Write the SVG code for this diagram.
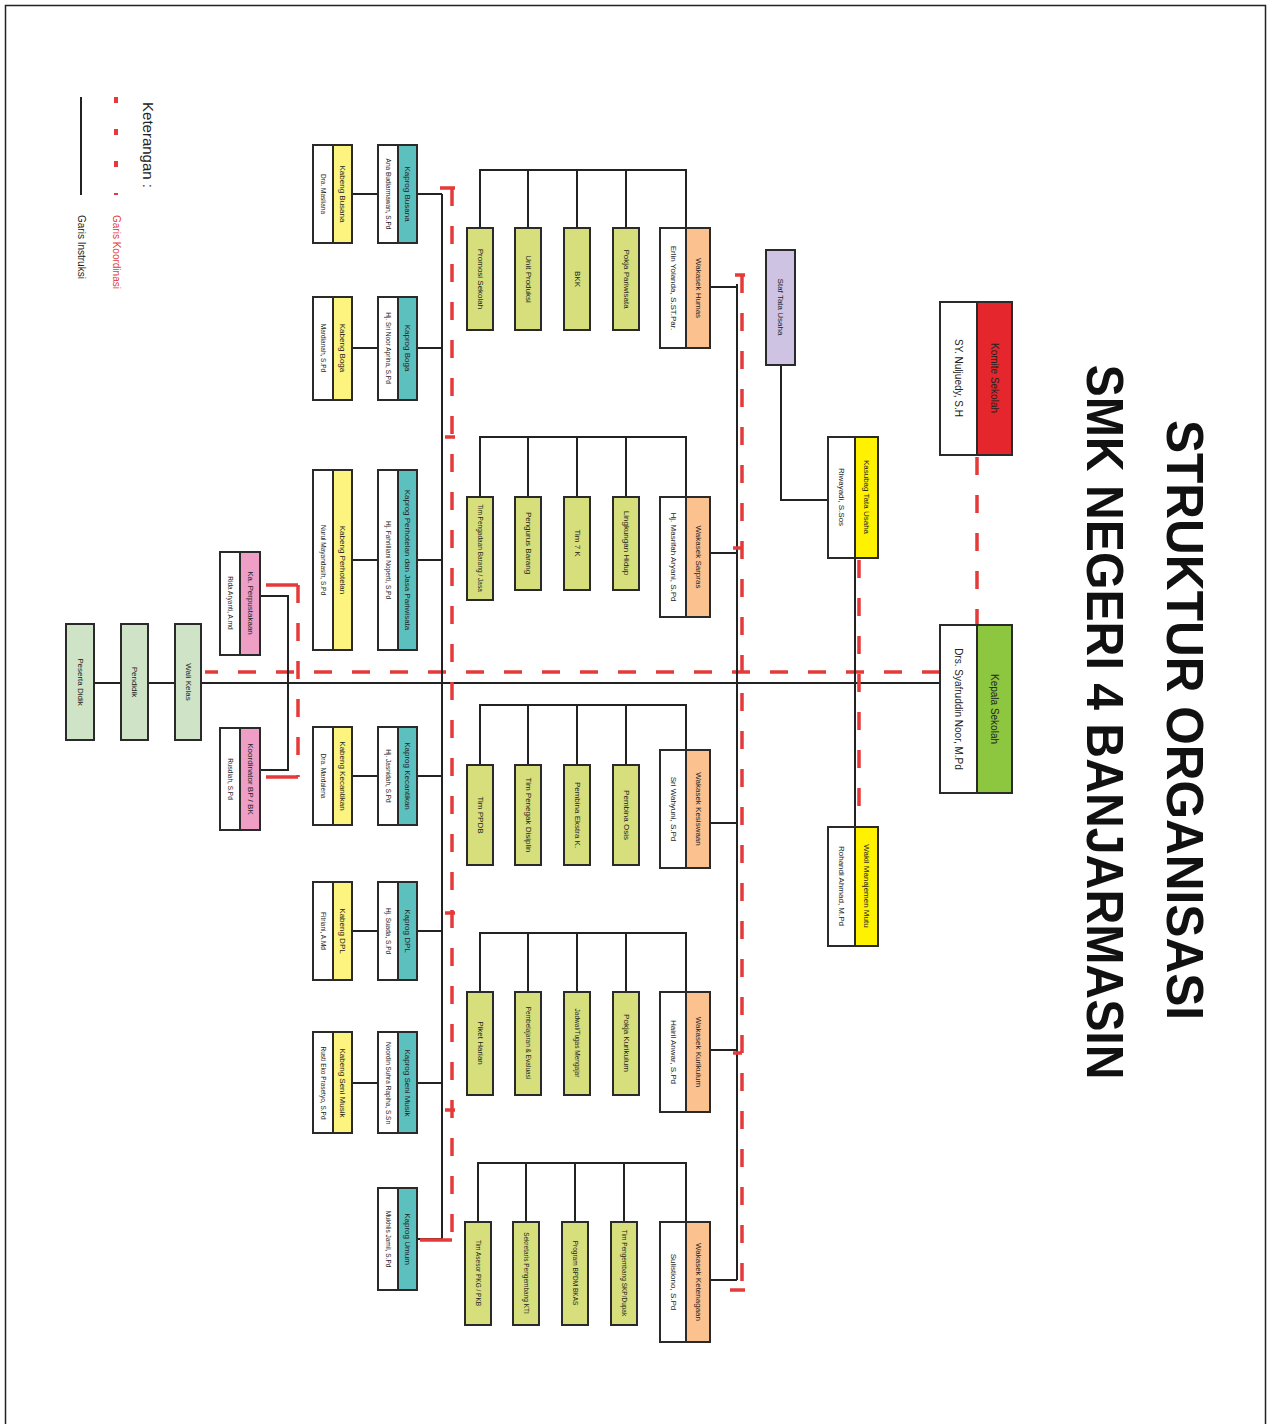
<svg xmlns="http://www.w3.org/2000/svg" width="1271" height="1424" viewBox="0 0 1271 1424">
<style>
text{font-family:"Liberation Sans Narrow","Liberation Sans",Arial,sans-serif;fill:#222;text-anchor:middle;dominant-baseline:central}
.t{font-size:8px}
.n{font-size:8px}
.s{font-size:6.5px}
.m{font-size:10px}
.ttl{font-family:"Liberation Sans",Arial,sans-serif;font-weight:bold;fill:#111}
.bx{stroke:#2a2a2a;stroke-width:2;fill:#fff}
.red{fill:#e5262c}.grn{fill:#8dc63f}.yel{fill:#fff200}.ora{fill:#fbc18f}.lg{fill:#d6df7c}.teal{fill:#5cc0bf}.lyel{fill:#fdf37f}.pink{fill:#ef9fc6}.pg{fill:#cfe4c6}.lav{fill:#cfc3e3}
.k{fill:none;stroke:#222;stroke-width:2}
.d{fill:none;stroke:#e53a3a;stroke-width:3.5;stroke-dasharray:18 20}
.tk{fill:none;stroke:#e53a3a;stroke-width:3.5}
</style>
<rect x="5.5" y="5.5" width="1260" height="1440" fill="none" stroke="#222" stroke-width="1.5"/>
<g id="title">
<text class="ttl" font-size="52" transform="translate(1185,720) rotate(90)" textLength="600" lengthAdjust="spacingAndGlyphs">STRUKTUR ORGANISASI</text>
<text class="ttl" font-size="52" transform="translate(1105,722) rotate(90)" textLength="715" lengthAdjust="spacingAndGlyphs">SMK NEGERI 4 BANJARMASIN</text>
</g>
<g id="legend">
<text font-size="15" transform="translate(148,145) rotate(90)">Keterangan :</text>
<path d="M116 97V195" fill="none" stroke="#e53a3a" stroke-width="4" stroke-dasharray="6 26"/>
<path d="M81 97V195" class="k"/>
<text font-size="10" style="fill:#e53a3a;text-anchor:start" transform="translate(116,215) rotate(90)">Garis Koordinasi</text>
<text font-size="10" style="text-anchor:start" transform="translate(81,215) rotate(90)">Garis Instruksi</text>
</g>
<g id="connectors">
<path class="k" d="M200 683H940M94 683H121M148 683H175"/>
<path class="d" d="M977 457V625"/>
<path class="d" d="M940 672H205"/>
<path class="k" d="M781 365V500H828M855 558V827"/>
<path class="d" d="M859 560V827"/>
<path class="k" d="M737 284V1280M710 287H737M710 553H737M710 823H737M710 1050H737M710 1280H737"/>
<path class="d" d="M742 275V1290"/>
<path class="tk" d="M735 275H745M730 1290H745M733 548H742M733 1053H742"/>
<path class="k" d="M480 228V170H686V228M528 170V228M577 170V228M626 170V228"/>
<path class="k" d="M480 497V437H686V497M528 437V497M577 437V497M626 437V497"/>
<path class="k" d="M480 765V705H686V750M528 705V765M577 705V765M626 705V765"/>
<path class="k" d="M480 992V933H686V992M528 933V992M577 933V992M626 933V992"/>
<path class="k" d="M478 1222V1163H686V1222M526 1163V1222M575 1163V1222M624 1163V1222"/>
<path class="k" d="M442 194V1239M417 194H442M417 348H442M417 560H442M417 776H442M417 931H442M417 1083H442M417 1239H442"/>
<path class="k" d="M352 194H378M352 348H378M352 560H378M352 776H378M352 931H378M352 1083H378"/>
<path class="d" d="M452 188V1240"/>
<path class="tk" d="M440 188H455M420 1240H452M445 437H455M445 913H455M445 1110H455"/>
<path class="k" d="M260 596H288V770H260"/>
<path class="d" d="M298 585V777"/>
<path class="tk" d="M266 585H298M266 777H298"/>
</g>
<g id="komite"><rect class="bx" x="940" y="302" width="72" height="153"/><rect class="bx red" x="977" y="302" width="35" height="153"/>
<text class="m" transform="translate(994.5,378) rotate(90)">Komite Sekolah</text><text class="m" transform="translate(958,378) rotate(90)">SY. Nuljuedy, S.H</text></g>
<g id="kepala"><rect class="bx" x="940" y="625" width="72" height="168"/><rect class="bx grn" x="977" y="625" width="35" height="168"/>
<text class="m" transform="translate(994.5,709) rotate(90)">Kepala Sekolah</text><text class="m" transform="translate(958,709) rotate(90)">Drs. Syafruddin Noor, M.Pd</text></g>
<g id="staf-tu"><rect class="bx lav" x="766" y="250" width="29" height="115"/><text class="t" transform="translate(780.5,307) rotate(90)">Staf Tata Usaha</text></g>
<g id="kasubag"><rect class="bx" x="828" y="437" width="50" height="121"/><rect class="bx yel" x="855" y="437" width="23" height="121"/>
<text class="t" transform="translate(866.5,497) rotate(90)">Kasubag Tata Usaha</text><text class="n" transform="translate(841.5,497) rotate(90)">Riwayadi, S.Sos</text></g>
<g id="wmm"><rect class="bx" x="828" y="827" width="50" height="119"/><rect class="bx yel" x="855" y="827" width="23" height="119"/>
<text class="t" transform="translate(866.5,886) rotate(90)">Wakil Manajemen Mutu</text><text class="n" transform="translate(841.5,886) rotate(90)">Rohandi Ahmad, M.Pd</text></g>
<g id="wakasek-humas"><rect class="bx" x="660" y="228" width="50" height="120"/><rect class="bx ora" x="686" y="228" width="24" height="120"/>
<text class="t" transform="translate(698,288) rotate(90)">Wakasek Humas</text><text class="n" transform="translate(673,288) rotate(90)">Erlin Yolanda, S.ST.Par.</text></g>
<g id="wakasek-sarpras"><rect class="bx" x="660" y="497" width="50" height="120"/><rect class="bx ora" x="686" y="497" width="24" height="120"/>
<text class="t" transform="translate(698,557) rotate(90)">Wakasek Sarpras</text><text class="n" transform="translate(673,557) rotate(90)">Hj. Masrifah Aryani, S.Pd</text></g>
<g id="wakasek-kesiswaan"><rect class="bx" x="660" y="750" width="50" height="118"/><rect class="bx ora" x="686" y="750" width="24" height="118"/>
<text class="t" transform="translate(698,809) rotate(90)">Wakasek Kesiswaan</text><text class="n" transform="translate(673,809) rotate(90)">Sri Wahyuni, S.Pd</text></g>
<g id="wakasek-kurikulum"><rect class="bx" x="660" y="992" width="50" height="120"/><rect class="bx ora" x="686" y="992" width="24" height="120"/>
<text class="t" transform="translate(698,1052) rotate(90)">Wakasek Kurikulum</text><text class="n" transform="translate(673,1052) rotate(90)">Hairil Anwar, S.Pd</text></g>
<g id="wakasek-ketenagaan"><rect class="bx" x="660" y="1222" width="50" height="120"/><rect class="bx ora" x="686" y="1222" width="24" height="120"/>
<text class="t" transform="translate(698,1282) rotate(90)">Wakasek Ketenagaan</text><text class="n" transform="translate(673,1282) rotate(90)">Sulistiono, S.Pd</text></g>
<g id="promosi"><rect class="bx lg" x="467" y="228" width="26" height="102"/><text class="t" transform="translate(480,279) rotate(90)">Promosi Sekolah</text></g>
<g id="unit-produksi"><rect class="bx lg" x="515" y="228" width="26" height="102"/><text class="t" transform="translate(528,279) rotate(90)">Unit Produksi</text></g>
<g id="bkk"><rect class="bx lg" x="564" y="228" width="26" height="102"/><text class="t" transform="translate(577,279) rotate(90)">BKK</text></g>
<g id="pokja-pariwisata"><rect class="bx lg" x="613" y="228" width="26" height="102"/><text class="t" transform="translate(626,279) rotate(90)">Pokja Pariwisata</text></g>
<g id="tim-pengadaan"><rect class="bx lg" x="467" y="497" width="26" height="103"/><text class="s" transform="translate(480,548) rotate(90)">Tim Pengadaan Barang / Jasa</text></g>
<g id="pengurus-barang"><rect class="bx lg" x="515" y="497" width="26" height="93"/><text class="t" transform="translate(528,543) rotate(90)">Pengurus Barang</text></g>
<g id="tim-7k"><rect class="bx lg" x="564" y="497" width="26" height="93"/><text class="t" transform="translate(577,543) rotate(90)">Tim 7 K</text></g>
<g id="lingkungan-hidup"><rect class="bx lg" x="613" y="497" width="26" height="93"/><text class="t" transform="translate(626,543) rotate(90)">Lingkungan Hidup</text></g>
<g id="tim-ppdb"><rect class="bx lg" x="467" y="765" width="26" height="100"/><text class="t" transform="translate(480,815) rotate(90)">Tim PPDB</text></g>
<g id="tim-disiplin"><rect class="bx lg" x="515" y="765" width="26" height="100"/><text class="t" transform="translate(528,815) rotate(90)">Tim Penegak Disiplin</text></g>
<g id="pembina-ekstra"><rect class="bx lg" x="564" y="765" width="26" height="100"/><text class="t" transform="translate(577,815) rotate(90)">Pembina Ekstra K.</text></g>
<g id="pembina-osis"><rect class="bx lg" x="613" y="765" width="26" height="100"/><text class="t" transform="translate(626,815) rotate(90)">Pembina Osis</text></g>
<g id="piket-harian"><rect class="bx lg" x="467" y="992" width="26" height="103"/><text class="t" transform="translate(480,1043) rotate(90)">Piket Harian</text></g>
<g id="pembelajaran"><rect class="bx lg" x="515" y="992" width="26" height="103"/><text class="s" transform="translate(528,1043) rotate(90)">Pembelajaran &amp; Evaluasi</text></g>
<g id="jadwal"><rect class="bx lg" x="564" y="992" width="26" height="103"/><text class="s" transform="translate(577,1043) rotate(90)">Jadwal/Tugas Mengajar</text></g>
<g id="pokja-kurikulum"><rect class="bx lg" x="613" y="992" width="26" height="103"/><text class="t" transform="translate(626,1043) rotate(90)">Pokja Kurikulum</text></g>
<g id="tim-asesor"><rect class="bx lg" x="465" y="1222" width="26" height="103"/><text class="s" transform="translate(478,1273) rotate(90)">Tim Asesor PKG / PKB</text></g>
<g id="sekretaris"><rect class="bx lg" x="513" y="1222" width="26" height="103"/><text class="s" transform="translate(526,1273) rotate(90)">Sekretaris Pengembang KTI</text></g>
<g id="program-bpdm"><rect class="bx lg" x="562" y="1222" width="26" height="103"/><text class="s" transform="translate(575,1273) rotate(90)">Program BPDM BKAS</text></g>
<g id="tim-pengembang"><rect class="bx lg" x="611" y="1222" width="26" height="103"/><text class="s" transform="translate(624,1273) rotate(90)">Tim Pengembang SKP/Dupak</text></g>
<g id="kaprog-busana"><rect class="bx" x="378" y="145" width="39" height="98"/><rect class="bx teal" x="398" y="145" width="19" height="98"/>
<text class="t" transform="translate(407.5,194) rotate(90)">Kaprog Busana</text><text class="s" transform="translate(388,194) rotate(90)">Ana Budiarmawan, S.Pd</text></g>
<g id="kaprog-boga"><rect class="bx" x="378" y="297" width="39" height="103"/><rect class="bx teal" x="398" y="297" width="19" height="103"/>
<text class="t" transform="translate(407.5,348) rotate(90)">Kaprog Boga</text><text class="s" transform="translate(388,348) rotate(90)">Hj. Sri Noor Aprina, S.Pd</text></g>
<g id="kaprog-perhotelan"><rect class="bx" x="378" y="470" width="39" height="180"/><rect class="bx teal" x="398" y="470" width="19" height="180"/>
<text class="t" transform="translate(407.5,560) rotate(90)">Kaprog Perhotelan dan Jasa Pariwisata</text><text class="s" transform="translate(388,560) rotate(90)">Hj. Fahrilliani Noperti, S.Pd</text></g>
<g id="kaprog-kecantikan"><rect class="bx" x="378" y="727" width="39" height="98"/><rect class="bx teal" x="398" y="727" width="19" height="98"/>
<text class="t" transform="translate(407.5,776) rotate(90)">Kaprog Kecantikan</text><text class="s" transform="translate(388,776) rotate(90)">Hj. Jasnidah, S.Pd</text></g>
<g id="kaprog-dpl"><rect class="bx" x="378" y="882" width="39" height="98"/><rect class="bx teal" x="398" y="882" width="19" height="98"/>
<text class="t" transform="translate(407.5,931) rotate(90)">Kaprog DPL</text><text class="s" transform="translate(388,931) rotate(90)">Hj. Suada, S.Pd</text></g>
<g id="kaprog-seni-musik"><rect class="bx" x="378" y="1032" width="39" height="101"/><rect class="bx teal" x="398" y="1032" width="19" height="101"/>
<text class="t" transform="translate(407.5,1083) rotate(90)">Kaprog Seni Musik</text><text class="s" transform="translate(388,1083) rotate(90)">Noordin Suhra Rapiha, S.Sn</text></g>
<g id="kaprog-umum"><rect class="bx" x="378" y="1188" width="39" height="102"/><rect class="bx teal" x="398" y="1188" width="19" height="102"/>
<text class="t" transform="translate(407.5,1239) rotate(90)">Kaprog Umum</text><text class="s" transform="translate(388,1239) rotate(90)">Mukhlis Jamil, S.Pd</text></g>
<g id="kabeng-busana"><rect class="bx" x="313" y="145" width="39" height="98"/><rect class="bx lyel" x="333" y="145" width="19" height="98"/>
<text class="t" transform="translate(342.5,194) rotate(90)">Kabeng Busana</text><text class="s" transform="translate(323,194) rotate(90)">Dra. Masliana</text></g>
<g id="kabeng-boga"><rect class="bx" x="313" y="297" width="39" height="103"/><rect class="bx lyel" x="333" y="297" width="19" height="103"/>
<text class="t" transform="translate(342.5,348) rotate(90)">Kabeng Boga</text><text class="s" transform="translate(323,348) rotate(90)">Mardianah, S.Pd</text></g>
<g id="kabeng-perhotelan"><rect class="bx" x="313" y="470" width="39" height="180"/><rect class="bx lyel" x="333" y="470" width="19" height="180"/>
<text class="t" transform="translate(342.5,560) rotate(90)">Kabeng Perhotelan</text><text class="s" transform="translate(323,560) rotate(90)">Nurul Mayandasih, S.Pd</text></g>
<g id="kabeng-kecantikan"><rect class="bx" x="313" y="727" width="39" height="98"/><rect class="bx lyel" x="333" y="727" width="19" height="98"/>
<text class="t" transform="translate(342.5,776) rotate(90)">Kabeng Kecantikan</text><text class="s" transform="translate(323,776) rotate(90)">Dra. Mardalena</text></g>
<g id="kabeng-dpl"><rect class="bx" x="313" y="882" width="39" height="98"/><rect class="bx lyel" x="333" y="882" width="19" height="98"/>
<text class="t" transform="translate(342.5,931) rotate(90)">Kabeng DPL</text><text class="s" transform="translate(323,931) rotate(90)">Fitriani, A.Md</text></g>
<g id="kabeng-seni-musik"><rect class="bx" x="313" y="1032" width="39" height="101"/><rect class="bx lyel" x="333" y="1032" width="19" height="101"/>
<text class="t" transform="translate(342.5,1083) rotate(90)">Kabeng Seni Musik</text><text class="s" transform="translate(323,1083) rotate(90)">Rusti Eko Prasetyo, S.Pd</text></g>
<g id="ka-perpustakaan"><rect class="bx" x="220" y="552" width="40" height="103"/><rect class="bx pink" x="240" y="552" width="20" height="103"/>
<text class="t" transform="translate(250,603) rotate(90)">Ka. Perpustakaan</text><text class="s" transform="translate(230,603) rotate(90)">Rida Aryanti, A.md</text></g>
<g id="koordinator-bk"><rect class="bx" x="220" y="728" width="40" height="102"/><rect class="bx pink" x="240" y="728" width="20" height="102"/>
<text class="t" transform="translate(250,779) rotate(90)">Koordinator BP / BK</text><text class="s" transform="translate(230,779) rotate(90)">Rusdiah, S.Pd</text></g>
<g id="wali-kelas"><rect class="bx pg" x="175" y="624" width="26" height="116"/><text class="t" transform="translate(188,682) rotate(90)">Wali Kelas</text></g>
<g id="pendidik"><rect class="bx pg" x="121" y="624" width="27" height="116"/><text class="t" transform="translate(134.5,682) rotate(90)">Pendidik</text></g>
<g id="peserta-didik"><rect class="bx pg" x="66" y="624" width="28" height="116"/><text class="t" transform="translate(80,682) rotate(90)">Peserta Didik</text></g>
</svg>
